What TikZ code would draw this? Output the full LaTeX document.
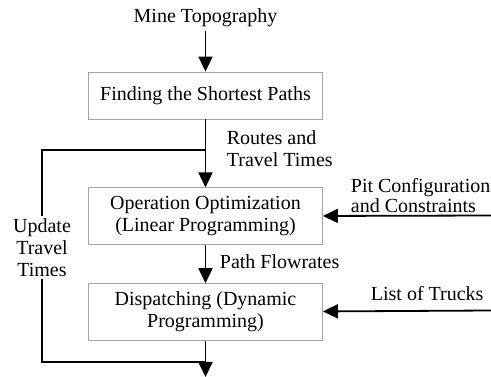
\documentclass[tikz,border=0pt]{standalone}
\usepackage{fontspec}
\setmainfont{Liberation Serif}
\usetikzlibrary{arrows.meta,positioning}

\begin{document}
\begin{tikzpicture}[x=1pt,y=-1pt,>={Triangle[length=15pt,width=14pt]},
					line width=1.8pt,font=\fontsize{20}{22}\selectfont,
					box node/.style={rectangle,draw=gray!70,line width=0.8pt,minimum width=234pt,minimum height=57pt,align=center,inner sep=0pt},
					text node/.style={align=left,inner sep=1pt}]
					
					\useasboundingbox (0,0) rectangle (491,377);
					
					\node (topo) at (205.5,18) {Mine Topography};
					\node[box node,minimum height=47pt] (find) at (205.5,95.5) {Finding the Shortest Paths};
					\node[box node] (optim) [below=68pt of find] {Operation Optimization\\(Linear Programming)};
					\node[box node] (disp) [below=38pt of optim] {Dispatching (Dynamic\\Programming)};
					
					\node[text node,anchor=west] (routes) at (225,148.5) {Routes and\\Travel Times};
					\node[text node,anchor=west] (flows) at (218,262) {Path Flowrates};
					\node[text node,anchor=west] (pit) at (349,196) {Pit Configuration\\[-2pt]and Constraints};
					\node[text node,anchor=west] (trucks) at (369,294) {List of Trucks};
					\node[align=center,inner sep=2pt] (update) at (42,247.5) {Update\\Travel\\Times};
					
					\coordinate (pitin) at (491,215.5);
					\coordinate (truckin) at (491,310.5);
					\coordinate (outlet) at (205.5,377);
					\coordinate (fbtop) at (205.5,150);
					\coordinate (fbbot) at (205.5,362);
					
					\path[->]
					(topo) edge (find)
					(find) edge (optim)
					(optim) edge (disp)
					(disp) edge (outlet)
					(pitin) edge (optim)
					(truckin) edge (disp);
					
					\draw (fbbot) -| (update.south);
					\draw (update.north) |- (fbtop);
					
\end{tikzpicture}
\end{document}
